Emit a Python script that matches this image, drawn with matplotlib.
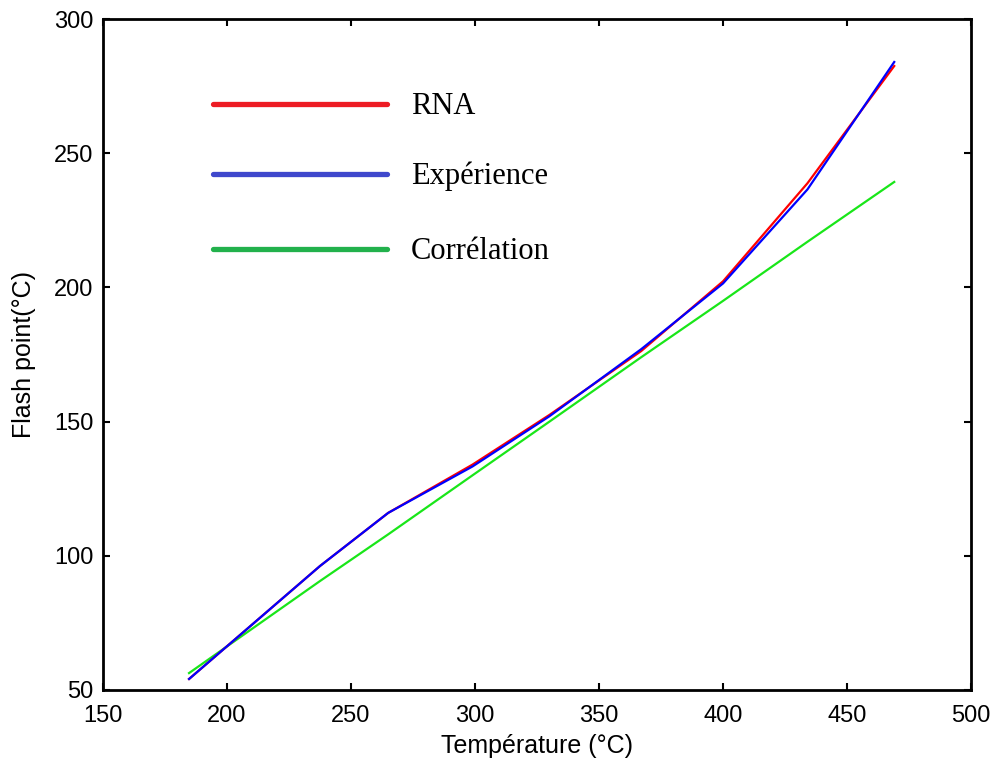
import matplotlib.pyplot as plt

# values
temperature = [184.7, 237.5, 265, 299, 330, 367, 400, 434, 469]
experience = [54.1, 96.2, 116, 133.3, 152, 177, 201.5, 236.5, 284]
rna = [54.1, 96.2, 116, 134, 152.5, 176.3, 202.3, 238.8, 282.5]
correlation = [56.3, 90.6, 108, 130, 150, 174, 195, 217, 239.3]

legend_labels = ['RNA', 'Expérience', 'Corrélation']
legend_colors = ['#ed1c24', '#3f48cc', '#22b14c']

fig = plt.figure(figsize=(9.95, 7.62), dpi=100)
ax = fig.add_axes([0.1035, 0.0945, 0.8725, 0.8805])

ax.plot(temperature, correlation, color='#19e619', lw=1.6)
ax.plot(temperature, rna, color='#ff0000', lw=1.6)
ax.plot(temperature, experience, color='#0000ff', lw=1.6)

ax.set_xlim(150, 500)
ax.set_ylim(50, 300)
ax.set_xticks(range(150, 501, 50))
ax.set_yticks(range(50, 301, 50))
ax.tick_params(direction='in', length=5, width=1.5, labelsize=17,
               top=True, right=True)
ax.tick_params(axis='x', pad=11)
ax.tick_params(axis='y', pad=7)
for s in ax.spines.values():
    s.set_linewidth(2)

ax.set_xlabel('Température (°C)', fontsize=18, family='Liberation Sans', labelpad=5)
ax.set_ylabel('Flash point(°C)', fontsize=18, family='Liberation Sans', labelpad=13)
for t in ax.get_xticklabels() + ax.get_yticklabels():
    t.set_family('Liberation Sans')

# hand-drawn style legend
ys = [0.873, 0.769, 0.657]
for lab, c, y in zip(legend_labels, legend_colors, ys):
    ax.plot([0.127, 0.327], [y, y], transform=ax.transAxes, color=c,
            lw=3.8, solid_capstyle='round')
    ax.text(0.355, y - 0.003, lab, transform=ax.transAxes, va='center', ha='left',
            fontsize=22, family='Liberation Serif')

fig.savefig('out.png', dpi=100)
